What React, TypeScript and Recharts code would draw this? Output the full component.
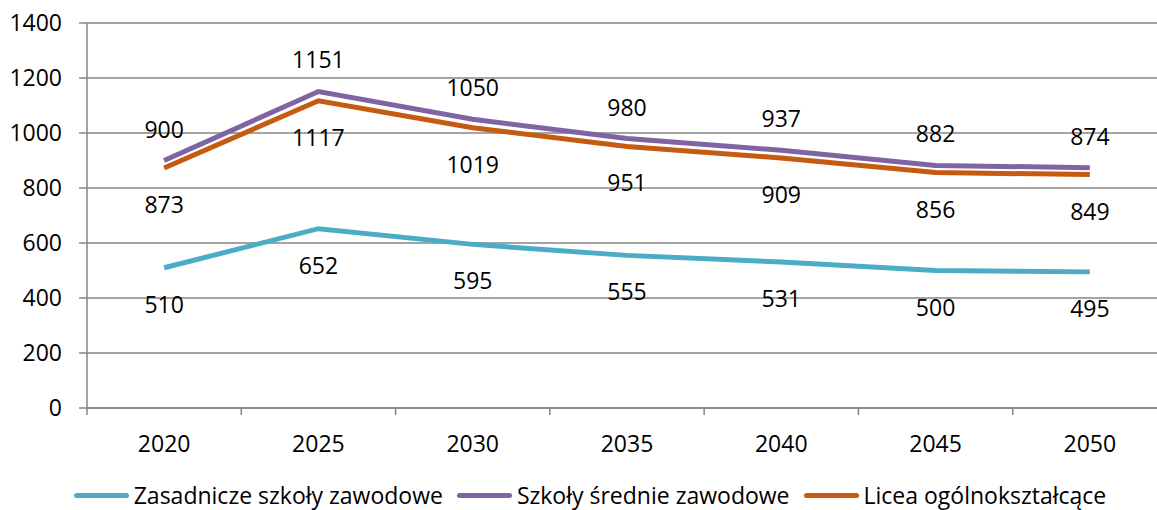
import { LineChart, Line, XAxis, YAxis, CartesianGrid, Legend, LabelList } from "recharts";

const years = ["2020", "2025", "2030", "2035", "2040", "2045", "2050"];
const zasadnicze = [510, 652, 595, 555, 531, 500, 495];
const srednie = [900, 1151, 1050, 980, 937, 882, 874];
const licea = [873, 1117, 1019, 951, 909, 856, 849];
const yTicks = [0, 200, 400, 600, 800, 1000, 1200, 1400];

const series = [
    { key: "zas", name: "Zasadnicze szkoły zawodowe", color: "#4BACC6", above: false },
    { key: "sre", name: "Szkoły średnie zawodowe", color: "#8064A2", above: true },
    { key: "lic", name: "Licea ogólnokształcące", color: "#C55A11", above: false },
];

const data = years.map((y, i) => ({
    year: y,
    zas: zasadnicze[i],
    sre: srednie[i],
    lic: licea[i],
}));

const FONT = "'Open Sans', sans-serif";
const FS = 23;
const GRID = "#868686";
const W = 1157;
const H = 510;
const margin = { top: 23, right: -10, left: 7, bottom: 0 };
const yAxisWidth = 80;
const step = (W - margin.left - yAxisWidth - margin.right) / years.length;

const XTick = (props: any) => {
    const { x, y, payload, index } = props;
    return (
        <g>
            <line x1={x - step / 2} x2={x - step / 2} y1={y} y2={y + 7} stroke={GRID} strokeWidth={1.5} />
            {index === years.length - 1 && (
                <line x1={x + step / 2} x2={x + step / 2} y1={y} y2={y + 7} stroke={GRID} strokeWidth={1.5} />
            )}
            <text x={x} y={y + 35} textAnchor="middle" dominantBaseline="central" fontSize={FS} fontFamily={FONT} fill="#000">
                {payload.value}
            </text>
        </g>
    );
};

const makeLabel = (above: boolean) => (props: any) => {
    const { x, y, value } = props;
    return (
        <text x={x} y={above ? y - 32 : y + 36} textAnchor="middle" dominantBaseline="central" fontSize={FS} fontFamily={FONT} fill="#000">
            {value}
        </text>
    );
};

const LegendContent = () => (
    <div style={{ display: "flex", justifyContent: "center", alignItems: "center", height: 30, fontFamily: FONT, fontSize: FS, gap: 14, paddingLeft: 6 }}>
        {series.map((s) => (
            <div key={s.key} style={{ display: "flex", alignItems: "center" }}>
                <div style={{ width: 55, height: 5, borderRadius: 3, background: s.color, marginRight: 5 }} />
                <span style={{ color: "#000", whiteSpace: "nowrap", lineHeight: "30px" }}>{s.name}</span>
            </div>
        ))}
    </div>
);

export default function App() {
    return (
        <div style={{ position: "absolute", left: 0, top: 0, width: W, height: H, overflow: "hidden", background: "#fff" }}>
            <LineChart width={W} height={H} data={data} margin={margin}>
                <CartesianGrid vertical={false} stroke={GRID} strokeWidth={1.5} />
                <XAxis
                    dataKey="year"
                    stroke={GRID}
                    strokeWidth={1.5}
                    tickLine={false}
                    tickSize={0}
                    tickMargin={0}
                    height={72}
                    padding={{ left: step / 2, right: step / 2 }}
                    tick={<XTick />}
                    interval={0}
                />
                <YAxis
                    domain={[0, 1400]}
                    ticks={yTicks}
                    width={yAxisWidth}
                    stroke={GRID}
                    strokeWidth={1.5}
                    tickSize={8}
                    tickMargin={17}
                    tick={{ fill: "#000", fontSize: FS, fontFamily: FONT }}
                    interval={0}
                />
                <Legend verticalAlign="bottom" content={<LegendContent />} />
                {series.map((s) => (
                    <Line
                        key={s.key}
                        dataKey={s.key}
                        name={s.name}
                        stroke={s.color}
                        strokeWidth={5}
                        dot={false}
                        isAnimationActive={false}
                    >
                        <LabelList dataKey={s.key} content={makeLabel(s.above)} />
                    </Line>
                ))}
            </LineChart>
        </div>
    );
}
